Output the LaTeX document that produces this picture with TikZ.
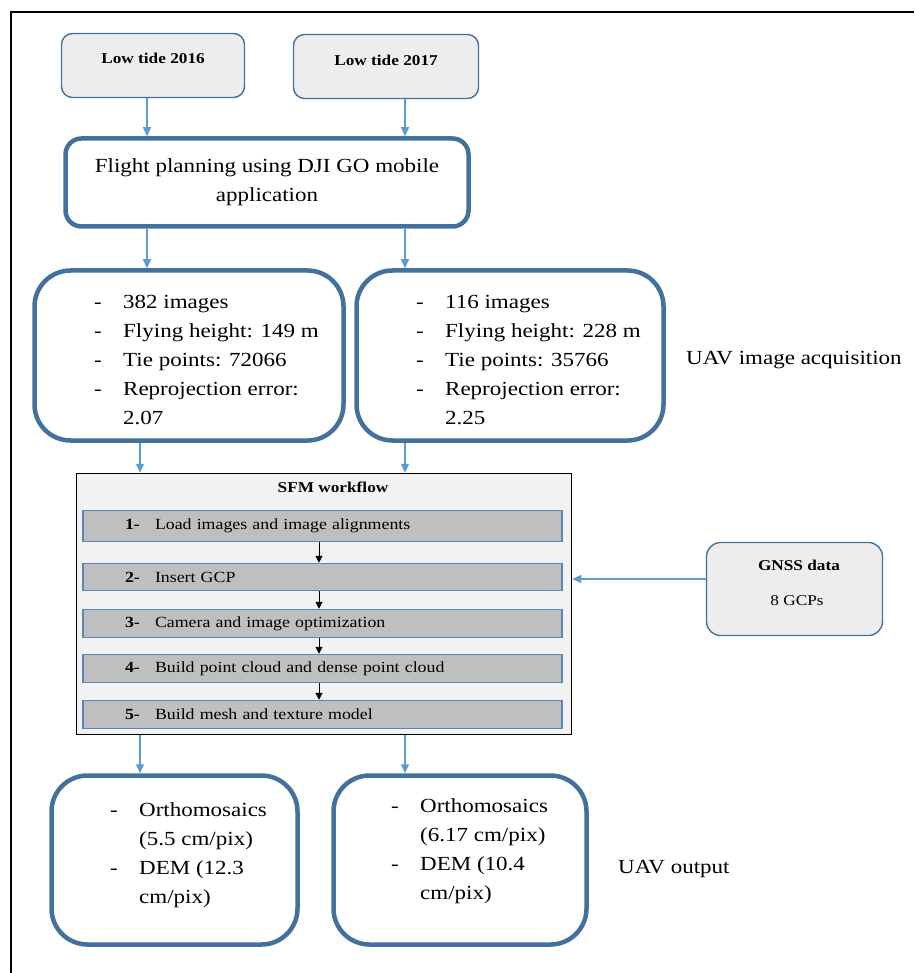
\documentclass[tikz,border=0pt]{standalone}
\usepackage{fontspec}
\setmainfont[FakeStretch=1.15]{Liberation Serif}
\usetikzlibrary{arrows.meta}

\definecolor{boxblue}{HTML}{41719C}
\definecolor{arrowblue}{HTML}{5B9BD5}
\definecolor{stepblue}{HTML}{5A86BC}
\definecolor{tidefill}{HTML}{EDEDED}
\definecolor{sfmfill}{HTML}{F2F2F2}
\definecolor{stepfill}{HTML}{BFBFBF}

\newcommand{\fsize}[2]{\fontsize{#1}{#2}\selectfont}

\begin{document}
\begin{tikzpicture}[
	x=1pt, y=-1pt,
	tidebox/.style={
		rectangle,
		rounded corners=11pt,
		draw=boxblue,
		line width=1.4pt,
		fill=tidefill,
		inner sep=0pt
	},
	bigbox/.style={
		rectangle,
		draw=boxblue,
		line width=4.5pt,
		inner sep=0pt
	},
	stepbox/.style={
		rectangle,
		draw=stepblue,
		line width=1.5pt,
		fill=stepfill,
		text width=395pt,
		inner xsep=42pt,
		inner ysep=0pt,
		align=left,
		font=\fsize{15.5}{18}
	},
	listtext/.style={
		anchor=base west,
		inner sep=0pt,
		font=\fsize{20}{29}
	},
	boldlabel/.style={
		inner sep=0pt,
		font=\fsize{15}{18}\bfseries
	},
	ArrowB/.style={% blue connectors
		-{Triangle[length=9pt,width=8pt]},
		draw=arrowblue,
		line width=1.4pt
	},
	ArrowK/.style={% black arrows between the steps
		-{Triangle[length=7pt,width=7pt]},
		line width=1pt
	},
]
	\useasboundingbox (0,0) rectangle (914,973);

	% frame
	\draw [line width=2pt] (11,973) -- (11,12) -- (914,12);

	% arrow columns
	\coordinate (colA) at (147,0);
	\coordinate (colB) at (405,0);
	\coordinate (colC) at (140,0);
	\coordinate (rowG) at (0,579);

	\node [tidebox, minimum width=183pt, minimum height=64pt] (tideA) at (153,65.5) {};
	\node [boldlabel] (tideAtext) at (153,58) {Low tide 2016};
	\node [tidebox, minimum width=185pt, minimum height=64pt] (tideB) at (386,66.5) {};
	\node [boldlabel] (tideBtext) at (386,60) {Low tide 2017};

	\node [bigbox, rounded corners=16pt, minimum width=403pt, minimum height=88pt,
		align=center, font=\fsize{20}{29}] (flight) at (267,182.5)
		{Flight planning using DJI GO mobile\\application};

	\node [bigbox, rounded corners=36pt, minimum width=309pt, minimum height=170pt] (acqL) at (189,355.5) {};
	\node [listtext] (listL) at (94,308.5) {\begin{tabular}[t]{@{}p{29pt}@{}l@{}}
		- & 382 images\\
		- & Flying height: 149 m\\
		- & Tie points: 72066\\
		- & Reprojection error:\\
		  & 2.07
	\end{tabular}};

	\node [bigbox, rounded corners=36pt, minimum width=307pt, minimum height=170pt] (acqR) at (510,355.5) {};
	\node [listtext] (listR) at (416,308.5) {\begin{tabular}[t]{@{}p{29pt}@{}l@{}}
		- & 116 images\\
		- & Flying height: 228 m\\
		- & Tie points: 35766\\
		- & Reprojection error:\\
		  & 2.25
	\end{tabular}};

	\node [listtext] (acqlabel) at (686,364) {UAV image acquisition};

	% SFM workflow
	\node [rectangle, draw, line width=1.5pt, fill=sfmfill, minimum width=495pt,
		minimum height=261pt] (sfm) at (324,604) {};
	\node [boldlabel] (sfmtitle) at (333,487) {SFM workflow};

	\node [stepbox, minimum height=31pt] (s1) at (322.5,526)
		{\makebox[30pt][l]{\bfseries 1-}Load images and image alignments};
	\node [stepbox, minimum height=27pt] (s2) at (322.5,577)
		{\makebox[30pt][l]{\bfseries 2-}Insert GCP};
	\node [stepbox, minimum height=28pt] (s3) at (322.5,623.5)
		{\makebox[30pt][l]{\bfseries 3-}Camera and image optimization};
	\node [stepbox, minimum height=28pt] (s4) at (322.5,668.5)
		{\makebox[30pt][l]{\bfseries 4-}Build point cloud and dense point cloud};
	\node [stepbox, minimum height=28pt] (s5) at (322.5,714.5)
		{\makebox[30pt][l]{\bfseries 5-}Build mesh and texture model};

	\coordinate (colS) at (319,0);

	% GNSS
	\node [tidebox, rounded corners=14pt, minimum width=176pt, minimum height=93pt] (gnss) at (794.5,589) {};
	\node [boldlabel] (gnsstext) at (799,565) {GNSS data};
	\node [inner sep=0pt, font=\fsize{15}{18}] (gcps) at (797,601) {8 GCPs};

	% outputs
	\node [bigbox, rounded corners=36pt, minimum width=246pt, minimum height=169pt] (outL) at (174.5,860) {};
	\node [listtext] (listOL) at (110,816.5) {\begin{tabular}[t]{@{}p{29pt}@{}l@{}}
		- & Orthomosaics\\
		  & (5.5 cm/pix)\\
		- & DEM (12.3\\
		  & cm/pix)
	\end{tabular}};

	\node [bigbox, rounded corners=36pt, minimum width=253pt, minimum height=169pt] (outR) at (460,860) {};
	\node [listtext] (listOR) at (391,812.5) {\begin{tabular}[t]{@{}p{29pt}@{}l@{}}
		- & Orthomosaics\\
		  & (6.17 cm/pix)\\
		- & DEM (10.4\\
		  & cm/pix)
	\end{tabular}};

	\node [listtext] (outlabel) at (618,873) {UAV output};

	% connectors
	\draw [ArrowB] (tideA.south -| colA) -- (flight.north -| colA);
	\draw [ArrowB] (tideB.south -| colB) -- (flight.north -| colB);

	\draw [ArrowB] (flight.south -| colA) -- (acqL.north -| colA);
	\draw [ArrowB] (flight.south -| colB) -- (acqR.north -| colB);

	\draw [ArrowB] (acqL.south -| colC) -- (sfm.north -| colC);
	\draw [ArrowB] (acqR.south -| colB) -- (sfm.north -| colB);

	\draw [ArrowK] (s1.south -| colS) -- (s2.north -| colS);
	\draw [ArrowK] (s2.south -| colS) -- (s3.north -| colS);
	\draw [ArrowK] (s3.south -| colS) -- (s4.north -| colS);
	\draw [ArrowK] (s4.south -| colS) -- (s5.north -| colS);

	\draw [ArrowB] (gnss.west |- rowG) -- (sfm.east |- rowG);

	\draw [ArrowB] (sfm.south -| colC) -- (outL.north -| colC);
	\draw [ArrowB] (sfm.south -| colB) -- (outR.north -| colB);
\end{tikzpicture}
\end{document}
